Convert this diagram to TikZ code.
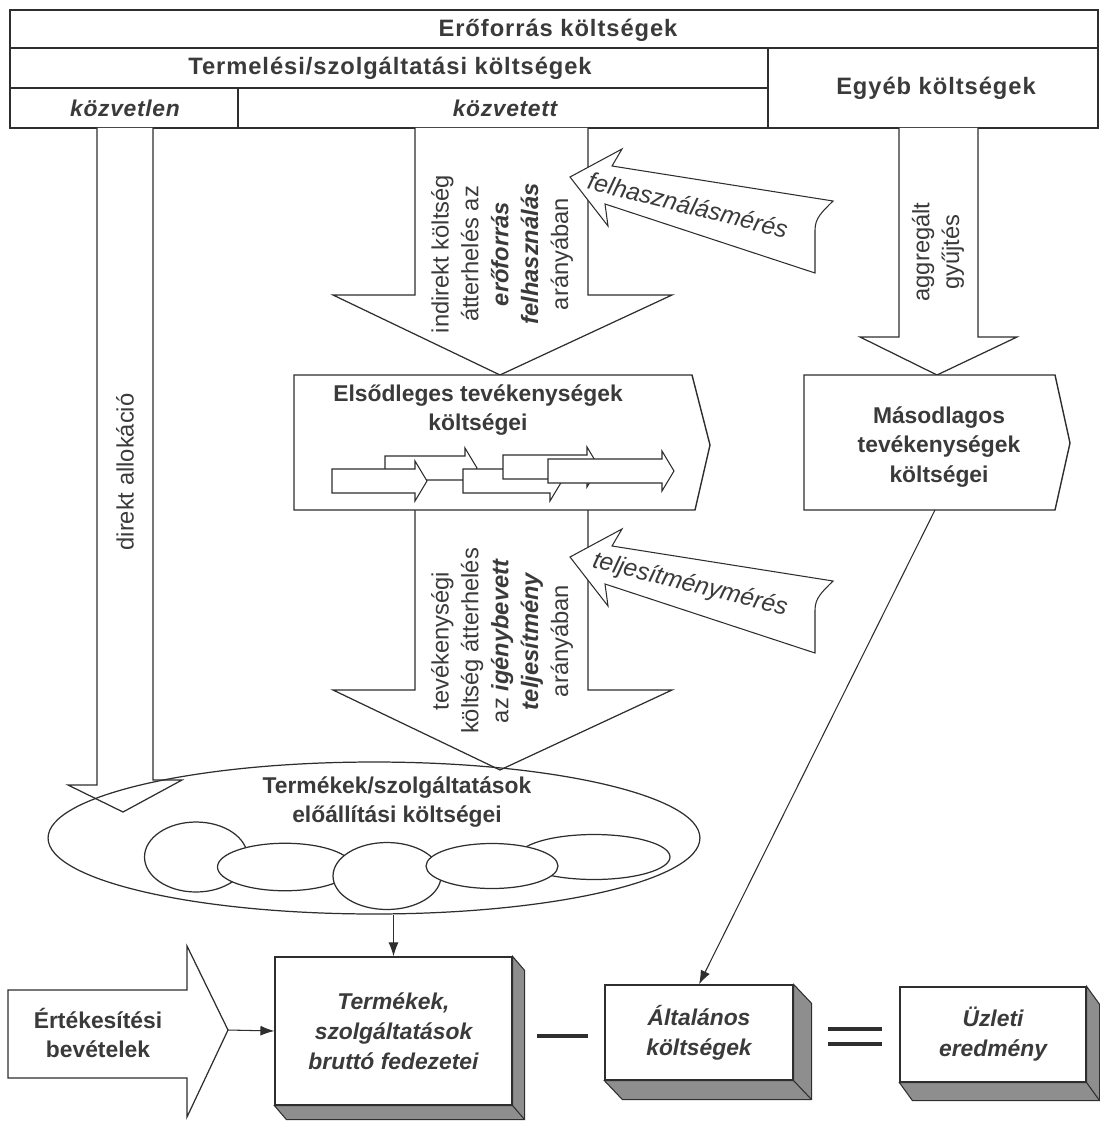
\documentclass[tikz,border=0pt]{standalone}
\usepackage{fontspec}
\setmainfont{Liberation Sans}
\usetikzlibrary{arrows.meta,shapes.geometric,calc}
\definecolor{scanInk}{HTML}{3A3A3A}
\definecolor{scanLine}{HTML}{2E2E2E}
\definecolor{scanShade}{HTML}{8E8E8E}
\newcommand{\tinyarrow}[3]{%
  \draw[smallarrow] (#1,#2-12) -- (#3,#2-12) -- (#3,#2-20) -- (#3+12,#2) -- (#3,#2+20) -- (#3,#2+12) -- (#1,#2+12) -- cycle;}
\newcommand{\meterarrow}[1]{%
  \draw[measarrow] (570,177+#1) -- (622,149+#1) -- (612,166+#1) -- (833,201+#1) .. controls (822,212+#1) and (815,218+#1) .. (815,230+#1) -- (815,273+#1) -- (605,204+#1) -- (608,226+#1) -- cycle;}
\newcommand{\slabface}[3]{%
  \draw[slab] (#1.north east) -- ++(#2,#3) |- ($(#1.south west)+(#2,#3)$) -- (#1.south west) -- (#1.south east) -- cycle;
  \draw[slab] (#1.south east) -- ++(#2,#3);}
\tikzset{
    >=Latex,
    every picture/.style={font=\fontsize{13}{16}\selectfont},
    tablegrid/.style={draw=scanLine, line width=0.8pt},
    bigarrow/.style={draw=scanLine, line width=0.7pt, fill=white, line join=miter},
    smallarrow/.style={draw=scanLine, line width=0.6pt, fill=white},
    measarrow/.style={draw=scanLine, line width=0.6pt, fill=white},
    actbox/.style={draw=scanLine, line width=0.8pt, fill=white},
    cloud/.style={draw=scanLine, line width=0.7pt, ellipse, inner sep=0pt},
    resultbox/.style={draw=scanLine, line width=0.7pt, fill=white, inner sep=0pt, align=center, text=scanInk, font=\fontsize{13}{17}\selectfont\bfseries\itshape},
    slab/.style={draw=scanLine, line width=0.6pt, fill=scanShade},
    headtext/.style={text=scanInk, font=\fontsize{13.5}{16}\selectfont\bfseries\addfontfeatures{LetterSpace=4}},
    subtext/.style={text=scanInk, font=\fontsize{13}{16}\selectfont\bfseries\itshape\addfontfeatures{LetterSpace=3}},
    titletext/.style={text=scanInk, align=center, font=\fontsize{13}{17}\selectfont\bfseries},
    flowtext/.style={text=scanInk, align=center, rotate=90, font=\fontsize{13.5}{17}\selectfont},
    meastext/.style={text=scanInk, rotate=-14, font=\fontsize{14}{16}\selectfont\itshape},
    conn/.style={-{Latex[length=2.8mm,width=2mm]}, draw=scanLine, line width=0.6pt},
    opline/.style={draw=scanLine, line width=2.2pt}
}
\begin{document}
\begin{tikzpicture}[x=0.02cm, y=-0.02cm]
\useasboundingbox (0,0) rectangle (1099,1125);
\draw[tablegrid] (10,10) rectangle (1098,128);
\draw[tablegrid] (10,48) -- (1098,48);
\draw[tablegrid] (10,88) -- (768,88);
\draw[tablegrid] (768,48) -- (768,128);
\draw[tablegrid] (238,88) -- (238,128);
\node[headtext] (eroforras) at (558,30) {Erőforrás költségek};
\node[headtext] (termelesi) at (390,68) {Termelési/szolgáltatási költségek};
\node[headtext] (egyeb) at (936,88) {Egyéb költségek};
\node[subtext] (kozvetlen) at (125,108) {közvetlen};
\node[subtext] (kozvetett) at (505,108) {közvetett};

\draw[bigarrow] (97,128) -- (97,785) -- (68,785) -- (123,812) -- (182,780) -- (153,780) -- (153,128);
\draw[bigarrow] (415,128) -- (415,295) -- (333,295) -- (500,375) -- (672,295) -- (588,295) -- (588,128);
\draw[bigarrow] (415,510) -- (415,690) -- (333,690) -- (500,770) -- (672,690) -- (588,690) -- (588,510);
\draw[bigarrow] (899,128) -- (899,337) -- (860,337) -- (937,375) -- (1017,337) -- (978,337) -- (978,128);
\node[flowtext] (direkt) at (125,472) {direkt allokáció};
\node[flowtext] (indirekt) at (502,254) {indirekt költség\\átterhelés az\\\textbf{\textit{erőforrás}}\\\textbf{\textit{felhasználás}}\\arányában};
\node[flowtext] (tevekeny) at (502,641) {tevékenységi\\költség átterhelés\\az \textbf{\textit{igénybevett}}\\\textbf{\textit{teljesítmény}}\\arányában};
\node[flowtext] (aggregalt) at (938,252) {aggregált\\gyűjtés};

\meterarrow{0}
\meterarrow{380}
\node[meastext] (felhasznalas) at (688,205) {felhasználásmérés};
\node[meastext] (teljesitmeny) at (690,585) {teljesítménymérés};

\draw[actbox] (294,375) -- (692,375) -- (710,445) -- (695,510) -- (294,510) -- cycle;
\node[titletext] (elsodleges) at (478,410) {Elsődleges tevékenységek\\költségei};
\tinyarrow{385}{468}{465}
\tinyarrow{332}{481}{415}
\tinyarrow{463}{481}{550}
\tinyarrow{503}{467}{587}
\tinyarrow{548}{471}{662}

\draw[actbox] (804,375) -- (1055,375) -- (1070,443) -- (1055,510) -- (804,510) -- cycle;
\node[titletext] (masodlagos) at (939,447) {Másodlagos\\tevékenységek\\költségei};

\node[cloud, minimum width=13.04cm, minimum height=3.04cm] (termelipszis) at (374,838) {};
\node[cloud, fill=white, minimum width=2.06cm, minimum height=1.4cm] (felho1) at (196,857) {};
\node[cloud, fill=white, minimum width=2.7cm, minimum height=0.95cm] (felho2) at (285,867) {};
\node[cloud, fill=white, minimum width=2.16cm, minimum height=1.34cm] (felho3) at (387,876) {};
\node[cloud, fill=white, minimum width=3.04cm, minimum height=0.9cm] (felho5) at (594,857) {};
\node[cloud, fill=white, minimum width=2.64cm, minimum height=0.9cm] (felho4) at (492,866) {};
\node[titletext] (termekkoltseg) at (397,802) {Termékek/szolgáltatások\\előállítási költségei};

\draw[bigarrow] (8,990) -- (187,990) -- (187,946) -- (228,1030) -- (187,1117) -- (187,1078) -- (8,1078) -- cycle;
\coordinate (ertekcsucs) at (228,1030);
\node[titletext] (ertekesites) at (98,1033) {Értékesítési\\bevételek};

\node[resultbox, minimum width=4.74cm, minimum height=2.96cm] (termekek) at (393.5,1031) {Termékek,\\szolgáltatások\\bruttó fedezetei};
\slabface{termekek}{12}{14}
\node[resultbox, minimum width=3.76cm, minimum height=1.9cm] (altalanos) at (699,1032.5) {Általános\\költségek};
\slabface{altalanos}{18}{19}
\node[resultbox, minimum width=3.72cm, minimum height=1.9cm] (uzleti) at (993,1034.5) {Üzleti\\eredmény};
\slabface{uzleti}{13}{18}

\draw[opline] (537,1036) -- (588,1036);
\draw[opline] (828,1029) -- (882,1029);
\draw[opline] (828,1044) -- (882,1044);

\coordinate (masodalj) at (935,510);
\draw[conn] (termekek.north |- termelipszis.south) -- (termekek.north);
\draw[conn] (ertekcsucs) -- (termekek.west);
\draw[conn] (masodalj) -- (altalanos.north);
\end{tikzpicture}
\end{document}
